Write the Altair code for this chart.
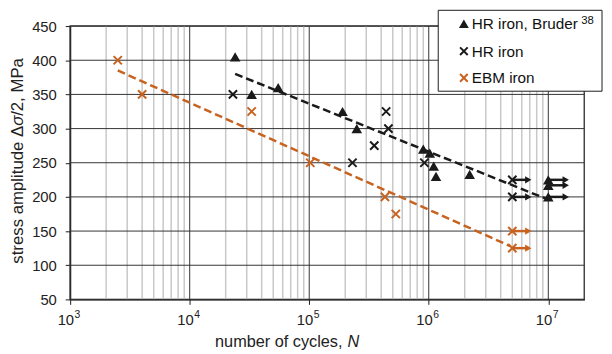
import altair as alt
import pandas as pd

# ---------------- data ----------------
bruder_N = [2.4e4, 3.3e4, 5.5e4, 1.9e5, 2.5e5, 9.0e5, 1.02e6, 1.1e6, 1.15e6, 2.2e6, 1e7, 1e7, 1e7]
bruder_S = [405, 350, 360, 325, 300, 270, 264, 245, 230, 233, 225, 217, 200]

hr_N = [2.3e4, 2.3e5, 3.5e5, 4.4e5, 4.6e5, 9.2e5, 5e6, 5e6]
hr_S = [350, 250, 275, 325, 300, 250, 225, 200]

ebm_N = [2.5e3, 4.0e3, 3.3e4, 1.02e5, 4.3e5, 5.3e5, 5e6, 5e6]
ebm_S = [400, 350, 325, 250, 200, 175, 150, 125]

# run-outs (arrows): start cycles, stress, arrow end, series
runout_N = [5e6, 5e6, 1e7, 1e7, 1e7, 5e6, 5e6]
runout_S = [225, 200, 225, 217, 200, 150, 125]
runout_end = [6.8e6, 6.8e6, 1.4e7, 1.4e7, 1.4e7, 6.8e6, 6.8e6]
runout_series = ["HR", "HR", "HR", "HR", "HR", "EBM", "EBM"]

# fitted (dashed) lines
hr_fit_N = [2.4e4, 1e7]
hr_fit_S = [380, 196]
ebm_fit_N = [2.5e3, 4.8e6]
ebm_fit_S = [385, 128]

decades = [1e3, 1e4, 1e5, 1e6, 1e7]
exponents = ["3", "4", "5", "6", "7"]
minor_ticks = [m * 10 ** k for k in range(3, 7) for m in range(2, 10)]
y_ticks = [50, 100, 150, 200, 250, 300, 350, 400, 450]

legend_labels = ["HR iron, Bruder", "HR iron", "EBM iron"]
legend_sup = "38"

# ---------------- styling ----------------
FONT = "Liberation Sans"
BLACK = "#1a1a1a"
ORANGE = "#c8621f"
XSHAPE = "M-1,-1L1,1M-1,1L1,-1"

xscale = alt.Scale(type="log", domain=[1e3, 2e7])
yscale = alt.Scale(domain=[50, 450])
xaxis = alt.Axis(values=decades, labels=False, ticks=True, tickSize=5, tickColor=BLACK,
                 domainColor=BLACK, domainWidth=1.2, grid=False, title=None)
yaxis = alt.Axis(values=y_ticks, grid=False, tickSize=5, tickColor=BLACK, domainColor=BLACK,
                 domainWidth=1.2, labelFontSize=15, labelFont=FONT, labelColor="#222222",
                 labelPadding=9, title=None)


def X(f):
    return alt.X(f"{f}:Q", scale=xscale, axis=xaxis)


def Y(f):
    return alt.Y(f"{f}:Q", scale=yscale, axis=yaxis)


series_color = alt.Color("series:N", scale=alt.Scale(domain=["HR", "EBM"], range=[BLACK, ORANGE]),
                         legend=None)

minor_df = pd.DataFrame({"N": minor_ticks})
major_df = pd.DataFrame({"N": decades, "base": ["10"] * len(decades), "exp": exponents})
ygrid_df = pd.DataFrame({"S": y_ticks})
bruder_df = pd.DataFrame({"N": bruder_N, "S": bruder_S})
hr_df = pd.DataFrame({"N": hr_N, "S": hr_S})
ebm_df = pd.DataFrame({"N": ebm_N, "S": ebm_S})
run_df = pd.DataFrame({"N": runout_N, "S": runout_S, "end": runout_end, "series": runout_series})
fit_df = pd.DataFrame({"N": hr_fit_N + ebm_fit_N, "S": hr_fit_S + ebm_fit_S,
                       "series": ["HR"] * 2 + ["EBM"] * 2})
one = pd.DataFrame({"a": [0]})

minor_grid = alt.Chart(minor_df).mark_rule(color="#c8c8c8", strokeWidth=1.5).encode(x=X("N"))
major_grid = alt.Chart(major_df).mark_rule(color="#333333", strokeWidth=1).encode(x=X("N"))
y_grid = alt.Chart(ygrid_df).mark_rule(color="#333333", strokeWidth=1).encode(y=Y("S"))

fits = alt.Chart(fit_df).mark_line(strokeDash=[8, 4], strokeWidth=2.5).encode(
    x=X("N"), y=Y("S"), color=series_color, detail="series:N")

shafts = alt.Chart(run_df).mark_rule(strokeWidth=2.5).encode(
    x=X("N"), x2="end:Q", y=Y("S"), color=series_color)
heads = alt.Chart(run_df).mark_point(shape="triangle-right", filled=True, size=55, opacity=1).encode(
    x=X("end"), y=Y("S"), color=series_color)

tri = alt.Chart(bruder_df).mark_point(shape="triangle-up", filled=True, size=115, color=BLACK,
                                      opacity=1).encode(x=X("N"), y=Y("S"))
hrx = alt.Chart(hr_df).mark_point(shape=XSHAPE, filled=False, size=70, strokeWidth=2, color=BLACK,
                                  opacity=1).encode(x=X("N"), y=Y("S"))
ebmx = alt.Chart(ebm_df).mark_point(shape=XSHAPE, filled=False, size=70, strokeWidth=2, color=ORANGE,
                                    opacity=1).encode(x=X("N"), y=Y("S"))

# x tick labels 10^k
xlab_base = alt.Chart(major_df).mark_text(align="right", baseline="alphabetic", fontSize=15, font=FONT,
                                          color="#222222", dx=4).encode(
    x=X("N"), y=alt.value(303), text="base:N")
xlab_exp = alt.Chart(major_df).mark_text(align="left", baseline="alphabetic", fontSize=10.5, font=FONT,
                                         color="#222222", dx=4.5).encode(
    x=X("N"), y=alt.value(296), text="exp:N")

# axis titles
xt1 = alt.Chart(one).mark_text(align="right", baseline="alphabetic", fontSize=16.5, font=FONT,
                               color="#222222").encode(
    x=alt.value(276), y=alt.value(325), text=alt.value("number of cycles,"))
xt2 = alt.Chart(one).mark_text(align="left", baseline="alphabetic", fontSize=16.5, font=FONT,
                               fontStyle="italic", color="#222222").encode(
    x=alt.value(281), y=alt.value(325), text=alt.value("N"))
yt1 = alt.Chart(one).mark_text(align="right", baseline="alphabetic", fontSize=17, font=FONT, angle=270,
                               color="#222222").encode(
    x=alt.value(-48), y=alt.value(101), text=alt.value("stress amplitude Δ"))
yt2 = alt.Chart(one).mark_text(align="left", baseline="alphabetic", fontSize=17, font=FONT, angle=270,
                               fontStyle="italic", color="#222222").encode(
    x=alt.value(-48), y=alt.value(101), text=alt.value("σ"))
yt3 = alt.Chart(one).mark_text(align="left", baseline="alphabetic", fontSize=17, font=FONT, angle=270,
                               color="#222222").encode(
    x=alt.value(-48), y=alt.value(91), text=alt.value("/2, MPa"))

# legend
box = alt.Chart(one).mark_rect(fill="white", stroke=BLACK, strokeWidth=1).encode(
    x=alt.value(373), x2=alt.value(539), y=alt.value(-16), y2=alt.value(66))
rows_y = [-2.3, 25.5, 52.5]
leg_tri = alt.Chart(one).mark_point(shape="triangle-up", filled=True, size=100, color=BLACK,
                                    opacity=1).encode(x=alt.value(399), y=alt.value(rows_y[0]))
leg_hr = alt.Chart(one).mark_point(shape=XSHAPE, filled=False, size=60, strokeWidth=2, color=BLACK,
                                   opacity=1).encode(x=alt.value(399), y=alt.value(rows_y[1]))
leg_ebm = alt.Chart(one).mark_point(shape=XSHAPE, filled=False, size=60, strokeWidth=2, color=ORANGE,
                                    opacity=1).encode(x=alt.value(399), y=alt.value(rows_y[2]))
leg_texts = [
    alt.Chart(one).mark_text(align="left", baseline="alphabetic", fontSize=15.5, font=FONT,
                             color="#111111").encode(
        x=alt.value(407), y=alt.value(ry + 5.5), text=alt.value(lab))
    for lab, ry in zip(legend_labels, rows_y)
]
leg_sup = alt.Chart(one).mark_text(align="left", baseline="alphabetic", fontSize=11.5, font=FONT,
                                   color="#111111").encode(
    x=alt.value(518), y=alt.value(-2.5), text=alt.value(legend_sup))

chart = alt.layer(
    minor_grid, major_grid, y_grid, fits, shafts, heads, tri, hrx, ebmx,
    xlab_base, xlab_exp, xt1, xt2, yt1, yt2, yt3,
    box, leg_tri, leg_hr, leg_ebm, *leg_texts, leg_sup
).properties(
    width=521, height=277,
    autosize=alt.AutoSizeParams(type="none"),
    padding={"left": 63, "top": 16, "right": 20, "bottom": 53},
).configure_view(stroke="#444444", strokeWidth=1.5)

chart.save("out.html", embed_options={"renderer": "svg", "actions": False})
